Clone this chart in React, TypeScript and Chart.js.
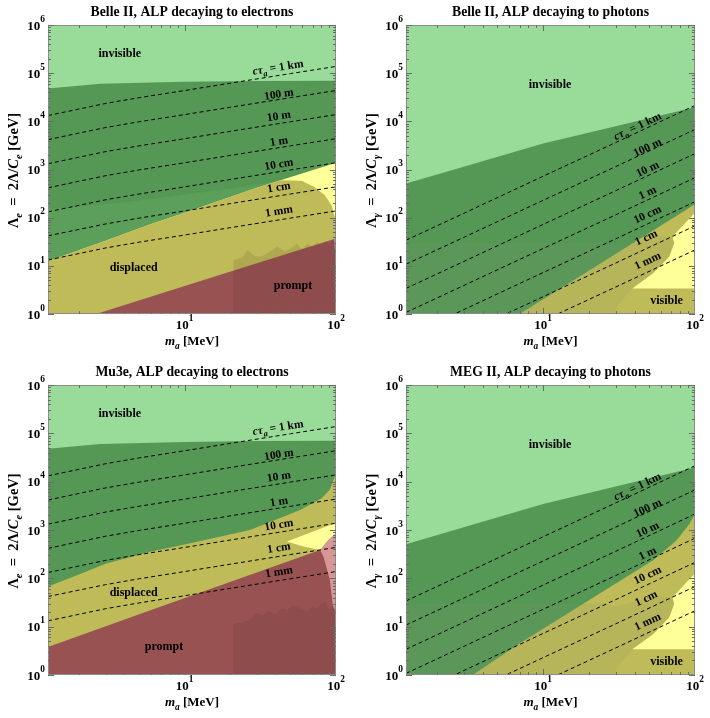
import { useEffect, useRef } from 'react';
import { Chart, registerables } from 'chart.js';

Chart.register(...registerables);

const FAM = '"Liberation Serif", "Times New Roman", Times, serif';

// ---------- axes ----------
const M_MIN = 1.25;
const M_MAX = 100;
const L_MIN = 1;
const L_MAX = 1e6;
const X_MAJOR = [10, 100];
const X_MAJOR_EXP = ['1', '2'];
const Y_MAJOR = [1, 10, 100, 1e3, 1e4, 1e5, 1e6];
const Y_MAJOR_EXP = ['0', '1', '2', '3', '4', '5', '6'];
const MINOR_MULT = [2, 3, 4, 5, 6, 7, 8, 9];

// ---------- colours ----------
const LIGHT_GREEN = 'rgb(153,219,153)';
const DARK_GREEN = 'rgb(85,152,85)';
const OLIVE = 'rgb(190,187,88)';
const LIGHT_YELLOW = 'rgb(255,255,153)';
const MAROON = 'rgb(152,82,82)';
const PINK = 'rgb(216,150,150)';
const JAGGED = 'rgba(70,30,30,0.12)';
const BAND = 'rgba(150,210,130,0.12)';
const OVERLAY = 'rgba(130,150,110,0.13)';
const FRAME = '#8c8c8c';
const TICK = '#6a6a6a';

// ---------- background (invisible region) ----------
const BG_M = [1.25, 100];
const BG_L = [1e6, 1e6];

// ---------- decay-length contours, ALP -> e+e- ----------
const M_E = [1.25, 2, 3, 5, 10, 20, 50, 100];
const E_1MM = [13.2, 18, 23.5, 31, 43.6, 62, 98, 138];
const E_1CM = [42, 57, 74, 98, 138, 196, 310, 436];
const E_10CM = [132, 180, 235, 310, 436, 620, 980, 1380];
const E_1M = [417, 570, 743, 980, 1380, 1960, 3100, 4360];
const E_10M = [1320, 1800, 2350, 3100, 4360, 6200, 9800, 13800];
const E_100M = [4170, 5700, 7430, 9800, 13800, 19600, 31000, 43600];
const E_1KM = [13200, 18000, 23500, 31000, 43600, 62000, 98000, 138000];
const E_LINES = [E_1KM, E_100M, E_10M, E_1M, E_10CM, E_1CM, E_1MM];
const E_LABEL_M = [41.5, 42, 42, 42, 42, 42, 42];
const E_LABEL_L = [126000, 35000, 12300, 3700, 1230, 410, 131];

// ---------- decay-length contours, ALP -> gamma gamma ----------
const M_G = [1.25, 3, 10, 30, 100];
const G_1KM = [34, 123, 725, 3620, 21400];
const G_100M = [10.8, 39, 229, 1145, 6770];
const G_10M = [3.4, 12.3, 72.5, 362, 2140];
const G_1M = [1.08, 3.9, 22.9, 114, 677];
const G_10CM = [0.34, 1.23, 7.25, 36.2, 214];
const G_1CM = [0.108, 0.39, 2.29, 11.4, 67.7];
const G_1MM = [0.034, 0.123, 0.725, 3.62, 21.4];
const G_LINES = [G_1KM, G_100M, G_10M, G_1M, G_10CM, G_1CM, G_1MM];
const G_LABEL_M = [42, 49, 49, 49, 49, 48, 49];
const G_LABEL_L = [7600, 2750, 980, 316, 112, 37, 12.2];

const LINE_NAMES = ['1 km', '100 m', '10 m', '1 m', '10 cm', '1 cm', '1 mm'];

// ---------- Belle II, electrons ----------
const E_GREEN_TOP_M = [1.25, 2.77, 10, 30, 100];
const E_GREEN_TOP_L = [48000, 60000, 66000, 69000, 70000];
const P1_GREEN_BOT_M = [1.25, 3, 6, 10, 30, 43, 100];
const P1_GREEN_BOT_L = [12.4, 33, 74, 126, 417, 600, 1380];
const P1_BAND_M = [1.25, 4, 10, 25, 45, 30, 10, 6, 3, 1.25];
const P1_BAND_L = [150, 210, 300, 440, 620, 417, 126, 74, 33, 12.4];
const P1_DISPL_M = [100, 1.25, 1.25, 3, 6, 10, 30, 43, 59, 72, 84, 93.5, 98, 100];
const P1_DISPL_L = [0.5, 0.5, 12.4, 33, 74, 126, 417, 600, 586, 435, 295, 182, 104, 90];
const P1_PROMPT_M = [1.25, 2.6, 10, 30, 100];
const P1_PROMPT_L = [0.48, 1, 3.8, 11.3, 37];
const P1_PINK_M = [97, 100, 100, 98];
const P1_PINK_L = [36, 42, 21, 22];
const P1_JAG_M = [100, 21, 21, 24, 26, 29, 32, 36, 41, 46, 50, 55, 60, 65, 70, 75, 80, 85, 90, 95, 100];
const P1_JAG_L = [0.5, 0.5, 13, 15, 21, 16, 15.5, 19, 25, 20, 23, 28, 22, 29, 24, 31, 26, 32, 27, 35, 38];

// ---------- Mu3e, electrons ----------
const P3_GREEN_BOT_M = [1.25, 2, 3, 6, 10, 27, 58, 80, 91, 100];
const P3_GREEN_BOT_L = [68, 120, 200, 357, 500, 1000, 2600, 4500, 6800, 15000];
const P3_YELLOW_M = [47.4, 100, 100, 89, 78.5, 61];
const P3_YELLOW_L = [575, 1420, 860, 620, 387, 455];
const P3_PROMPT_M = [1.25, 6, 78.5, 100];
const P3_PROMPT_L = [3.8, 22, 387, 510];
const P3_PINK_M = [78.5, 89, 100, 100, 95.5, 91, 82.6];
const P3_PINK_L = [387, 620, 860, 20, 26, 93, 282];
const P3_JAG_M = [100, 21, 21, 24, 27, 30, 33, 36, 40, 44, 48, 52, 56, 60, 65, 70, 75, 80, 85, 90, 95, 100];
const P3_JAG_L = [0.5, 0.5, 11.5, 12, 14, 19, 17, 21, 18, 24, 22, 28, 25, 22, 20, 26, 23, 30, 33, 22, 27, 28];

// ---------- photons (Belle II / MEG II) ----------
const G_GREEN_TOP_M = [1.25, 3, 10, 30, 100];
const G_GREEN_TOP_L = [510, 1140, 3470, 7900, 19600];
const P2_GREEN_BOT_M = [1.25, 7, 30, 100];
const P2_GREEN_BOT_L = [0.034, 1, 17.6, 190];
const P4_GREEN_BOT_M = [1.25, 3.43, 7, 20, 53, 75.7, 92.7, 100];
const P4_GREEN_BOT_L = [0.13, 1, 4.5, 35, 237, 617, 1380, 2200];
const G_OVERLAY_M = [1.25, 24, 30, 45, 62, 71, 74, 72, 67.6, 53, 38.7, 31, 27, 1.25];
const G_OVERLAY_L = [30, 30, 26, 36, 42, 40, 32, 22, 15.5, 7, 3.4, 1.5, 0.5, 0.5];
const G_VISIBLE_M = [100, 96.5, 71, 73, 67.6, 53, 38.7, 100];
const G_VISIBLE_L = [125, 113, 40, 29.3, 15.5, 7, 3.4, 3.4];

type Seg = { t: string; it?: boolean; sub?: boolean; sup?: boolean };

const xy = (ms: number[], ls: number[]) => ms.map((m, i) => ({ x: m, y: ls[i] }));

const region = (ms: number[], ls: number[], color: string, fill: any, order: number) => ({
  data: xy(ms, ls),
  borderWidth: 0,
  borderColor: 'rgba(0,0,0,0)',
  backgroundColor: color,
  fill,
  pointRadius: 0,
  order,
});

const dashed = (ms: number[], ls: number[]) => ({
  data: xy(ms, ls),
  borderWidth: 1,
  borderColor: '#000',
  borderDash: [4, 3],
  fill: false,
  pointRadius: 0,
  order: 0,
});

function segFont(s: Seg, size: number) {
  const sz = s.sub || s.sup ? size * 0.72 : size;
  return `${s.it ? 'italic ' : ''}bold ${sz}px ${FAM}`;
}

function drawRich(ctx: CanvasRenderingContext2D, segs: Seg[], x: number, y: number, size: number, align: 'left' | 'center' | 'right') {
  let w = 0;
  for (const s of segs) {
    ctx.font = segFont(s, size);
    w += ctx.measureText(s.t).width;
  }
  let cx = align === 'center' ? x - w / 2 : align === 'right' ? x - w : x;
  ctx.textAlign = 'left';
  ctx.textBaseline = 'alphabetic';
  for (const s of segs) {
    ctx.font = segFont(s, size);
    const dy = s.sub ? size * 0.28 : s.sup ? -size * 0.6 : 0;
    ctx.fillText(s.t, cx, y + dy);
    cx += ctx.measureText(s.t).width;
  }
}

type Label = { text: string; m: number; l: number };

interface PanelSpec {
  title: string;
  kind: 'e' | 'g';
  yAxisW: number;
  rightPad: number;
  xAxisH: number;
  datasets: any[];
  labels: Label[];
}

function decorPlugin(p: PanelSpec) {
  return {
    id: 'decor',
    afterDraw(chart: any) {
      const { ctx, chartArea: a } = chart;
      const xs = chart.scales.x;
      const ys = chart.scales.y;
      ctx.save();
      // frame
      ctx.strokeStyle = FRAME;
      ctx.lineWidth = 1;
      ctx.strokeRect(a.left + 0.5, a.top + 0.5, a.right - a.left - 1, a.bottom - a.top - 1);
      // ticks
      ctx.strokeStyle = TICK;
      ctx.beginPath();
      const xTick = (v: number, len: number) => {
        const px = Math.round(xs.getPixelForValue(v)) + 0.5;
        if (px < a.left || px > a.right) return;
        ctx.moveTo(px, a.bottom);
        ctx.lineTo(px, a.bottom - len);
        ctx.moveTo(px, a.top);
        ctx.lineTo(px, a.top + len);
      };
      const yTick = (v: number, len: number) => {
        const py = Math.round(ys.getPixelForValue(v)) + 0.5;
        if (py < a.top - 1 || py > a.bottom + 1) return;
        ctx.moveTo(a.left, py);
        ctx.lineTo(a.left + len, py);
        ctx.moveTo(a.right, py);
        ctx.lineTo(a.right - len, py);
      };
      X_MAJOR.forEach((v) => xTick(v, 6));
      [1, 10].forEach((d) => MINOR_MULT.forEach((k) => xTick(k * d, 3)));
      Y_MAJOR.forEach((v) => yTick(v, 6));
      Y_MAJOR.slice(0, 6).forEach((d) => MINOR_MULT.forEach((k) => yTick(k * d, 3)));
      ctx.stroke();

      ctx.fillStyle = '#000';
      // tick labels
      Y_MAJOR.forEach((v, i) => {
        const py = ys.getPixelForValue(v);
        drawRich(ctx, [{ t: '10' }, { t: Y_MAJOR_EXP[i], sup: true }], a.left - 3, py + 4.5, 13, 'right');
      });
      X_MAJOR.forEach((v, i) => {
        const px = xs.getPixelForValue(v);
        drawRich(ctx, [{ t: '10' }, { t: X_MAJOR_EXP[i], sup: true }], px, a.bottom + 15, 13, 'center');
      });
      // axis titles
      const cxA = (a.left + a.right) / 2;
      const cyA = (a.top + a.bottom) / 2;
      drawRich(ctx, [{ t: 'm', it: true }, { t: 'a', it: true, sub: true }, { t: ' [MeV]' }], cxA, a.bottom + 31, 13, 'center');
      const sub = p.kind === 'e' ? 'e' : 'γ';
      ctx.save();
      ctx.translate(a.left - 35, cyA + 1);
      ctx.rotate(-Math.PI / 2);
      drawRich(
        ctx,
        [
          { t: 'Λ' },
          { t: sub, it: true, sub: true },
          { t: '\u2002=\u20022Λ/' },
          { t: 'C', it: true },
          { t: sub, it: true, sub: true },
          { t: ' [GeV]' },
        ],
        0,
        4.8,
        14.5,
        'center'
      );
      ctx.restore();
      // title
      drawRich(ctx, [{ t: p.title }], cxA, 16, 13.7, 'center');

      // region labels
      p.labels.forEach((lb) => {
        drawRich(ctx, [{ t: lb.text }], xs.getPixelForValue(lb.m), ys.getPixelForValue(lb.l) + 4, 12, 'center');
      });

      // decay length labels
      const ms = p.kind === 'e' ? M_E : M_G;
      const lines = p.kind === 'e' ? E_LINES : G_LINES;
      const lm = p.kind === 'e' ? E_LABEL_M : G_LABEL_M;
      const ll = p.kind === 'e' ? E_LABEL_L : G_LABEL_L;
      lines.forEach((line, i) => {
        const m = lm[i];
        let j = 0;
        while (j < ms.length - 2 && ms[j + 1] < m) j++;
        const x1 = xs.getPixelForValue(ms[j]);
        const y1 = ys.getPixelForValue(line[j]);
        const x2 = xs.getPixelForValue(ms[j + 1]);
        const y2 = ys.getPixelForValue(line[j + 1]);
        const ang = Math.atan2(y2 - y1, x2 - x1);
        const segs: Seg[] =
          i === 0
            ? [{ t: 'c', it: true }, { t: 'τ', it: true }, { t: 'a', it: true, sub: true }, { t: ' = ' + LINE_NAMES[i] }]
            : [{ t: LINE_NAMES[i] }];
        ctx.save();
        ctx.translate(xs.getPixelForValue(m), ys.getPixelForValue(ll[i]));
        ctx.rotate(ang);
        drawRich(ctx, segs, 0, 2.5, 11.5, 'center');
        ctx.restore();
      });
      ctx.restore();
    },
  };
}

function makeConfig(p: PanelSpec): any {
  return {
    type: 'line',
    data: { datasets: p.datasets },
    options: {
      animation: false,
      responsive: false,
      maintainAspectRatio: false,
      devicePixelRatio: 1,
      events: [],
      layout: { padding: { top: 25, right: p.rightPad, left: 0, bottom: 0 } },
      plugins: { legend: { display: false }, tooltip: { enabled: false }, title: { display: false } },
      elements: { point: { radius: 0, hoverRadius: 0 }, line: { tension: 0 } },
      scales: {
        x: {
          type: 'logarithmic',
          position: 'bottom',
          min: M_MIN,
          max: M_MAX,
          grid: { display: false },
          border: { display: false },
          ticks: { display: false },
          afterFit: (s: any) => {
            s.height = p.xAxisH;
          },
        },
        y: {
          type: 'logarithmic',
          position: 'left',
          min: L_MIN,
          max: L_MAX,
          grid: { display: false },
          border: { display: false },
          ticks: { display: false },
          afterFit: (s: any) => {
            s.width = p.yAxisW;
          },
        },
      },
    },
    plugins: [decorPlugin(p)],
  };
}

const eLines = () => E_LINES.map((l) => dashed(M_E, l));
const gLines = () => G_LINES.map((l) => dashed(M_G, l));

const PANELS: { spec: PanelSpec; left: number; top: number; w: number; h: number }[] = [
  {
    left: 0,
    top: 0,
    w: 355,
    h: 360,
    spec: {
      title: 'Belle II, ALP decaying to electrons',
      kind: 'e',
      yAxisW: 48,
      rightPad: 19,
      xAxisH: 46,
      datasets: [
        region(BG_M, BG_L, LIGHT_GREEN, 'start', 100),
        region(E_GREEN_TOP_M, E_GREEN_TOP_L, DARK_GREEN, 'start', 90),
        region(P1_BAND_M, P1_BAND_L, BAND, 'shape', 85),
        region(P1_GREEN_BOT_M, P1_GREEN_BOT_L, LIGHT_YELLOW, 'start', 80),
        region(P1_DISPL_M, P1_DISPL_L, OLIVE, 'shape', 70),
        region(P1_PROMPT_M, P1_PROMPT_L, MAROON, 'start', 60),
        region(P1_PINK_M, P1_PINK_L, PINK, 'shape', 55),
        region(P1_JAG_M, P1_JAG_L, JAGGED, 'shape', 50),
        ...eLines(),
      ],
      labels: [
        { text: 'invisible', m: 3.73, l: 2.6e5 },
        { text: 'displaced', m: 4.6, l: 9.4 },
        { text: 'prompt', m: 52, l: 4.0 },
      ],
    },
  },
  {
    left: 355,
    top: 0,
    w: 355,
    h: 360,
    spec: {
      title: 'Belle II, ALP decaying to photons',
      kind: 'g',
      yAxisW: 51,
      rightPad: 15,
      xAxisH: 46,
      datasets: [
        region(BG_M, BG_L, LIGHT_GREEN, 'start', 100),
        region(G_GREEN_TOP_M, G_GREEN_TOP_L, DARK_GREEN, 'start', 90),
        region(P2_GREEN_BOT_M, P2_GREEN_BOT_L, OLIVE, 'start', 80),
        region(G_OVERLAY_M, G_OVERLAY_L, OVERLAY, 'shape', 75),
        region(G_VISIBLE_M, G_VISIBLE_L, LIGHT_YELLOW, 'shape', 70),
        ...gLines(),
      ],
      labels: [
        { text: 'invisible', m: 11.1, l: 61000 },
        { text: 'visible', m: 65, l: 1.95 },
      ],
    },
  },
  {
    left: 0,
    top: 360,
    w: 355,
    h: 358,
    spec: {
      title: 'Mu3e, ALP decaying to electrons',
      kind: 'e',
      yAxisW: 48,
      rightPad: 19,
      xAxisH: 43,
      datasets: [
        region(BG_M, BG_L, LIGHT_GREEN, 'start', 100),
        region(E_GREEN_TOP_M, E_GREEN_TOP_L, DARK_GREEN, 'start', 90),
        region(P3_GREEN_BOT_M, P3_GREEN_BOT_L, OLIVE, 'start', 80),
        region(P3_YELLOW_M, P3_YELLOW_L, LIGHT_YELLOW, 'shape', 75),
        region(P3_PROMPT_M, P3_PROMPT_L, MAROON, 'start', 60),
        region(P3_PINK_M, P3_PINK_L, PINK, 'shape', 55),
        region(P3_JAG_M, P3_JAG_L, JAGGED, 'shape', 50),
        ...eLines(),
      ],
      labels: [
        { text: 'invisible', m: 3.73, l: 2.6e5 },
        { text: 'displaced', m: 4.6, l: 53 },
        { text: 'prompt', m: 7.3, l: 4.0 },
      ],
    },
  },
  {
    left: 355,
    top: 360,
    w: 355,
    h: 358,
    spec: {
      title: 'MEG II, ALP decaying to photons',
      kind: 'g',
      yAxisW: 51,
      rightPad: 15,
      xAxisH: 43,
      datasets: [
        region(BG_M, BG_L, LIGHT_GREEN, 'start', 100),
        region(G_GREEN_TOP_M, G_GREEN_TOP_L, DARK_GREEN, 'start', 90),
        region(P4_GREEN_BOT_M, P4_GREEN_BOT_L, OLIVE, 'start', 80),
        region(G_OVERLAY_M, G_OVERLAY_L, OVERLAY, 'shape', 75),
        region(G_VISIBLE_M, G_VISIBLE_L, LIGHT_YELLOW, 'shape', 70),
        ...gLines(),
      ],
      labels: [
        { text: 'invisible', m: 11.1, l: 61000 },
        { text: 'visible', m: 65, l: 1.95 },
      ],
    },
  },
];

function Panel({ spec, left, top, w, h }: { spec: PanelSpec; left: number; top: number; w: number; h: number }) {
  const ref = useRef<HTMLCanvasElement>(null);
  useEffect(() => {
    if (!ref.current) return;
    const chart = new Chart(ref.current, makeConfig(spec));
    return () => chart.destroy();
  }, [spec]);
  return (
    <canvas
      ref={ref}
      width={w}
      height={h}
      style={{ position: 'absolute', left, top, width: w, height: h, display: 'block' }}
    />
  );
}

export default function App() {
  return (
    <div style={{ position: 'absolute', left: 0, top: 0, width: 710, height: 718, background: '#fff', overflow: 'hidden' }}>
      {PANELS.map((p, i) => (
        <Panel key={i} spec={p.spec} left={p.left} top={p.top} w={p.w} h={p.h} />
      ))}
    </div>
  );
}
